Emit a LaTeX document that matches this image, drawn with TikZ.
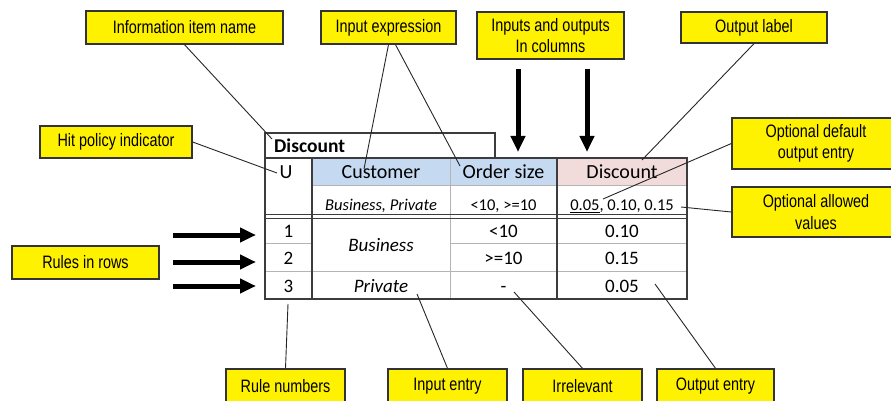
\documentclass[tikz,border=0pt]{standalone}
\usepackage{fontspec}
\setmainfont{Carlito}
\newfontfamily\boxfont[FakeStretch=0.8]{Liberation Sans}
\usetikzlibrary{arrows.meta}
\definecolor{hdrblue}{HTML}{C5D9F1}
\definecolor{hdrpink}{HTML}{F2DCDB}
\definecolor{tdark}{HTML}{3C3C3C}
\definecolor{tlight}{HTML}{B4B4B4}
\begin{document}
\begin{tikzpicture}[x=1pt,y=-1pt,
  ybox/.style={draw=black!80, line width=1.3pt, fill=yellow, inner sep=0pt, align=center,
    font=\boxfont\fontsize{18}{21.5}\selectfont},
  lead/.style={draw=black!85, line width=0.9pt},
  bigarrow/.style={line width=5pt, -{Triangle[width=14pt,length=16pt]}},
  darkline/.style={draw=tdark, line width=1.3pt},
  lightline/.style={draw=tlight, line width=1pt},
  cell/.style={inner sep=0pt, text height=13pt, text depth=0pt, font=\fontsize{19}{22}\selectfont},
  hcell/.style={inner sep=0pt, text height=13pt, text depth=0pt, font=\fontsize{20}{24}\selectfont},
  acell/.style={inner sep=0pt, text height=11pt, text depth=0pt, font=\fontsize{16.5}{20}\selectfont},
]
\useasboundingbox (0,0) rectangle (891,401);

% ---------- table ----------
\fill[hdrblue] (312,158) rectangle (557,185);
\fill[hdrpink] (557,158) rectangle (687,185);
\draw[lightline] (312,185) -- (687,185);
\draw[lightline] (450,158) -- (450,299);
\draw[lightline] (265,243) -- (312,243);
\draw[lightline] (450,243) -- (687,243);
\draw[lightline] (265,271) -- (687,271);
\draw[darkline] (265,214.5) -- (687,214.5);
\draw[darkline] (265,218.5) -- (687,218.5);
\draw[darkline] (312,158) -- (312,299);
\draw[darkline] (557,158) -- (557,299);
\draw[darkline] (265,158) -- (265,133) -- (495,133) -- (495,158);
\draw[darkline] (265,158) rectangle (687,299);

\node[inner sep=0pt, anchor=west, font=\bfseries\fontsize{19.5}{23}\selectfont] (title) at (274,146) {Discount};
\node[hcell] (hU) at (286,172) {U};
\node[hcell] (hCust) at (381,172) {Customer};
\node[hcell] (hOrd) at (503.5,172) {Order size};
\node[hcell] (hDisc) at (622,172) {Discount};
\node[acell] (aCust) at (381,205) {\itshape Business, Private};
\node[acell] (aOrd) at (503.5,205) {<10, >=10};
\node[acell] (aDisc) at (622,205) {\underline{0.05}, 0.10, 0.15};
\node[cell] (n1) at (288.5,231) {1};
\node[cell] (n2) at (288.5,257.5) {2};
\node[cell] (n3) at (288.5,285.5) {3};
\node[cell] (bus) at (381,245) {\itshape Business};
\node[cell] (priv) at (381,285.5) {\itshape Private};
\node[cell] (o1) at (503.5,231) {<10};
\node[cell] (o2) at (503.5,257.5) {>=10};
\node[cell] (o3) at (503.5,285.5) {-};
\node[cell] (d1) at (622,231) {0.10};
\node[cell] (d2) at (622,257.5) {0.15};
\node[cell] (d3) at (622,285.5) {0.05};

% ---------- yellow callout boxes ----------
\node[ybox, minimum width=197pt, minimum height=33pt] (info) at (184.5,27.5) {Information item name};
\node[ybox, minimum width=135pt, minimum height=33pt] (inexpr) at (388.5,27.5) {Input expression};
\node[ybox, minimum width=147pt, minimum height=47pt] (inout) at (550.5,35.5) {Inputs and outputs\\In columns};
\node[ybox, minimum width=146pt, minimum height=31pt] (outlab) at (754,27.5) {Output label};
\node[ybox, minimum width=152pt, minimum height=32pt] (hit) at (116,142) {Hit policy indicator};
\node[ybox, minimum width=147pt, minimum height=33pt] (rules) at (85.5,262.5) {Rules in rows};
\node[ybox, minimum width=168pt, minimum height=51pt] (optdef) at (816,143.5) {Optional default\\output entry};
\node[ybox, minimum width=168pt, minimum height=50pt] (optall) at (816,212) {Optional allowed\\values};
\node[ybox, minimum width=119pt, minimum height=34pt] (rulenum) at (285.5,386) {Rule numbers};
\node[ybox, minimum width=119pt, minimum height=34pt] (inentry) at (447.5,386) {Input entry};
\node[ybox, minimum width=119pt, minimum height=34pt] (irrel) at (582.5,386) {Irrelevant};
\node[ybox, minimum width=117pt, minimum height=34pt] (outentry) at (715.5,386) {Output entry};

% ---------- leader end points ----------
\coordinate (pTitle) at (272,139);
\coordinate (pCust) at (364,169);
\coordinate (pOrd) at (460,166);
\coordinate (pU) at (277,173);
\coordinate (pDisc) at (642,160);
\coordinate (pDef) at (603,199);
\coordinate (pAll) at (681,207);
\coordinate (pNum) at (288,304);
\coordinate (pPriv) at (417,294);
\coordinate (pDash) at (514,292);
\coordinate (pOut) at (655,284);
\coordinate (inexprB) at ([xshift=7pt]inexpr.south);

\draw[lead] (info.south) -- (pTitle);
\draw[lead] (inexpr.south) -- (pCust);
\draw[lead] (inexprB) -- (pOrd);
\draw[lead] (hit.east) -- (pU);
\draw[lead] (outlab.south) -- (pDisc);
\draw[lead] (optdef.west) -- (pDef);
\draw[lead] (optall.west) -- (pAll);
\draw[lead] (rulenum.north) -- (pNum);
\draw[lead] (inentry.north) -- (pPriv);
\draw[lead] (irrel.north) -- (pDash);
\draw[lead] (outentry.north) -- (pOut);

% ---------- thick arrows ----------
\coordinate (vA1) at (518,69);  \coordinate (vA1t) at (518,152);
\coordinate (vA2) at (587,69);  \coordinate (vA2t) at (587,152);
\coordinate (hA1) at (173,235); \coordinate (hA1t) at (256,235);
\coordinate (hA2) at (173,262); \coordinate (hA2t) at (256,262);
\coordinate (hA3) at (173,286); \coordinate (hA3t) at (256,286);
\draw[bigarrow] (vA1) -- (vA1t);
\draw[bigarrow] (vA2) -- (vA2t);
\draw[bigarrow] (hA1) -- (hA1t);
\draw[bigarrow] (hA2) -- (hA2t);
\draw[bigarrow] (hA3) -- (hA3t);
\end{tikzpicture}
\end{document}
